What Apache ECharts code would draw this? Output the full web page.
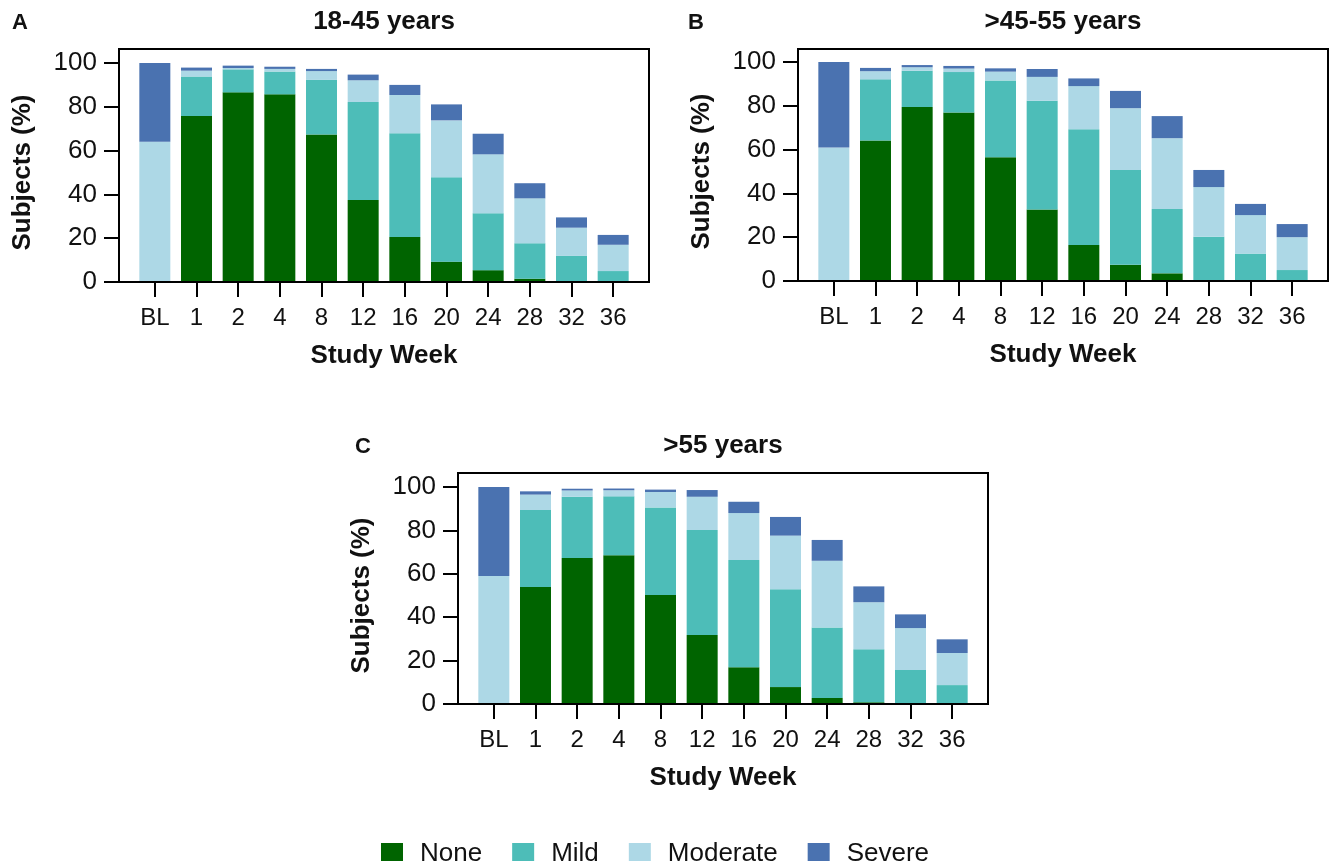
<!DOCTYPE html>
<html><head><meta charset="utf-8">
<script src="https://cdn.jsdelivr.net/npm/echarts@6/dist/echarts.min.js"></script>
<style>html,body{margin:0;padding:0;background:#fff}#c{width:1333px;height:861px}</style>
</head><body><div id="c"></div>
<script>
// ---- data ----
const weeks = ['BL','1','2','4','8','12','16','20','24','28','32','36'];
const yTicks = [0, 20, 40, 60, 80, 100];
const levels = ['None','Mild','Moderate','Severe'];
const panelTitles = ['18-45 years', '>45-55 years', '>55 years'];
const panelLetters = ['A', 'B', 'C'];

const noneA = [0, 75.8, 86.6, 85.7, 67.3, 37.4, 20.5, 9.3, 5.4, 1.5, 0, 0];
const mildA = [0, 18.0, 10.5, 10.4, 25.0, 44.8, 47.4, 38.5, 26.0, 16.2, 11.9, 5.0];
const modA  = [64, 2.7, 0.6, 1.2, 4.0, 9.9, 17.5, 26.0, 26.9, 20.5, 12.9, 12.0];
const sevA  = [36, 1.4, 1.1, 1.0, 1.0, 2.6, 4.6, 7.3, 9.4, 6.9, 4.7, 4.5];

const noneB = [0, 64.2, 79.5, 76.9, 56.5, 32.6, 16.4, 7.4, 3.5, 0, 0, 0];
const mildB = [0, 27.9, 16.5, 18.5, 35.1, 49.7, 52.9, 43.3, 29.4, 20.2, 12.5, 5.0];
const modB  = [61, 3.7, 1.6, 1.6, 4.0, 10.9, 19.7, 28.2, 32.3, 22.7, 17.6, 15.0];
const sevB  = [39, 1.5, 1.0, 1.2, 1.5, 3.6, 3.5, 7.9, 10.1, 7.8, 5.1, 6.0];

const noneC = [0, 53.9, 67.3, 68.5, 50.2, 31.8, 16.9, 7.8, 2.8, 0.8, 0, 0];
const mildC = [0, 35.5, 28.2, 27.2, 40.4, 48.4, 49.5, 45.1, 32.4, 24.4, 15.7, 8.7];
const modC  = [59, 7.1, 2.9, 2.8, 7.1, 15.3, 21.6, 24.7, 30.8, 21.7, 19.3, 14.8];
const sevC  = [41, 1.5, 0.8, 0.8, 1.1, 3.1, 5.2, 8.6, 9.6, 7.3, 6.3, 6.3];

const panelData = [
  [noneA, mildA, modA, sevA],
  [noneB, mildB, modB, sevB],
  [noneC, mildC, modC, sevC]
];

// ---- styling / layout ----
const colors = ['#006400', '#4DBDB8', '#ADD8E6', '#4A72B0'];
const FONT = "'Liberation Sans', Arial, Helvetica, sans-serif";
const layout = [
  {gl: 134, ft: 49, y100: 63, y0: 282},
  {gl: 813, ft: 49, y100: 62, y0: 281},
  {gl: 473, ft: 473, y100: 487, y0: 704}
];
const PLOT_W = 500, PAD = 15;

const grids = [], xAxes = [], yAxes = [], series = [], titles = [];
layout.forEach((p, i) => {
  const fi = grids.length;
  grids.push({left: p.gl - PAD, top: p.ft, width: PLOT_W + 2 * PAD, height: p.y0 - p.ft,
    show: true, borderColor: '#000', borderWidth: 2, backgroundColor: 'transparent', z: 5,
    containLabel: false, outerBoundsMode: 'none'});
  const bi = grids.length;
  grids.push({left: p.gl, top: p.y100, width: PLOT_W, height: p.y0 - p.y100,
    containLabel: false, outerBoundsMode: 'none'});
  xAxes.push({gridIndex: fi, type: 'value', show: false, min: 0, max: 1});
  yAxes.push({gridIndex: fi, type: 'value', show: false, min: 0, max: 1});
  const xi = xAxes.length, yi = yAxes.length;
  xAxes.push({
    gridIndex: bi, type: 'category', data: weeks,
    axisLine: {show: false},
    axisTick: {show: true, alignWithLabel: true, length: 15, lineStyle: {color: '#000', width: 2}},
    axisLabel: {interval: 0, fontSize: 24, margin: 24, color: '#111', fontFamily: FONT},
    name: 'Study Week', nameLocation: 'middle', nameGap: 61,
    nameTextStyle: {fontSize: 26, fontWeight: 'bold', color: '#111', fontFamily: FONT}
  });
  yAxes.push({
    gridIndex: bi, type: 'value', min: yTicks[0], max: yTicks[yTicks.length - 1],
    interval: yTicks[1] - yTicks[0], offset: PAD,
    axisLine: {show: false},
    axisTick: {show: true, length: 15, lineStyle: {color: '#000', width: 2}},
    axisLabel: {fontSize: 26, margin: 22, color: '#111', fontFamily: FONT},
    splitLine: {show: false},
    name: 'Subjects (%)', nameLocation: 'middle', nameGap: 83,
    nameTextStyle: {fontSize: 26, fontWeight: 'bold', color: '#111', fontFamily: FONT}
  });
  levels.forEach((lv, k) => {
    series.push({
      type: 'bar', name: lv, xAxisIndex: xi, yAxisIndex: yi, stack: 'p' + i,
      barWidth: 31, data: panelData[i][k], itemStyle: {color: colors[k]},
      silent: true
    });
  });
  titles.push({text: panelTitles[i], left: p.gl + PLOT_W / 2, top: p.ft - 40, textAlign: 'center', padding: 0,
    textStyle: {fontSize: 26, fontWeight: 'bold', color: '#111', fontFamily: FONT}});
});
titles.push({text: panelLetters[0], left: 12, top: 12, padding: 0,
  textStyle: {fontSize: 22, fontWeight: 'bold', color: '#111', fontFamily: FONT}});
titles.push({text: panelLetters[1], left: 688, top: 12, padding: 0,
  textStyle: {fontSize: 22, fontWeight: 'bold', color: '#111', fontFamily: FONT}});
titles.push({text: panelLetters[2], left: 355, top: 436, padding: 0,
  textStyle: {fontSize: 22, fontWeight: 'bold', color: '#111', fontFamily: FONT}});

const chart = echarts.init(document.getElementById('c'), null, {renderer: 'canvas'});
chart.setOption({
  animation: false,
  backgroundColor: '#fff',
  title: titles,
  grid: grids,
  xAxis: xAxes,
  yAxis: yAxes,
  legend: {
    data: levels, left: 376, top: 836, icon: 'rect', itemWidth: 22, itemHeight: 22, itemGap: 30,
    textStyle: {fontSize: 26, color: '#111', fontFamily: FONT, padding: [0, 0, 0, 12]}
  },
  series: series
});
</script></body></html>
